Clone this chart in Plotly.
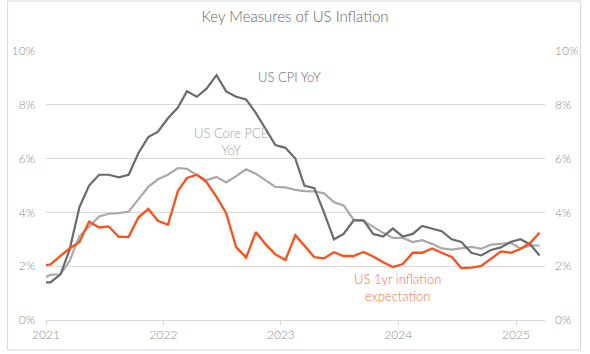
import pandas as pd
import plotly.graph_objects as go

# Monthly observations, mid-month, Dec 2020 .. Mar 2025
months = pd.date_range("2020-12-01", "2025-03-01", freq="MS") + pd.Timedelta(days=14)

cpi_yoy = [1.4,
           1.4, 1.7, 2.6, 4.2, 5.0, 5.4, 5.4, 5.3, 5.4, 6.2, 6.8, 7.0,
           7.5, 7.9, 8.5, 8.3, 8.6, 9.1, 8.5, 8.3, 8.2, 7.7, 7.1, 6.5,
           6.4, 6.0, 5.0, 4.9, 4.0, 3.0, 3.2, 3.7, 3.7, 3.2, 3.1, 3.4,
           3.1, 3.2, 3.5, 3.4, 3.3, 3.0, 2.9, 2.5, 2.4, 2.6, 2.7, 2.9,
           3.0, 2.8, 2.4]

core_pce_yoy = [1.5,
                1.68, 1.70, 2.19, 3.11, 3.48, 3.85, 3.95, 3.97, 4.03, 4.5, 4.95, 5.23,
                5.4, 5.65, 5.62, 5.38, 5.2, 5.32, 5.11, 5.35, 5.6, 5.44, 5.18, 4.95,
                4.93, 4.84, 4.79, 4.78, 4.71, 4.38, 4.26, 3.73, 3.68, 3.45, 3.24, 3.05,
                3.05, 2.9, 2.97, 2.83, 2.66, 2.62, 2.66, 2.72, 2.65, 2.8, 2.83, 2.87,
                2.66, 2.77, 2.77]

infl_exp_1yr = [2.0,
                2.07, 2.38, 2.66, 2.9, 3.66, 3.44, 3.48, 3.09, 3.09, 3.81, 4.13, 3.69,
                3.54, 4.8, 5.28, 5.4, 5.13, 4.58, 3.97, 2.71, 2.32, 3.27, 2.81, 2.44,
                2.23, 3.15, 2.75, 2.34, 2.29, 2.52, 2.38, 2.38, 2.53, 2.36, 2.15, 1.97,
                2.08, 2.5, 2.5, 2.66, 2.5, 2.34, 1.93, 1.95, 2.01, 2.27, 2.55, 2.5,
                2.64, 2.88, 3.24]

y_ticks = [0, 2, 4, 6, 8, 10]
y_ticktext = ["0%", "2%", "4%", "6%", "8%", "10%"]
year_ticks = ["2021-01-01", "2022-01-01", "2023-01-01", "2024-01-01", "2025-01-01"]
year_labels = ["2021", "2022", "2023", "2024", "2025"]

DARK = "#6b6b6b"
LIGHT = "#a9a9a9"
ORANGE = "#ff4f17"
GRID = "#d9d9d9"
TXT = "#8c8c8c"
FONT = "Lato"
WT = 300

fig = go.Figure()
fig.add_trace(go.Scatter(x=months, y=core_pce_yoy, mode="lines", name="US Core PCE YoY",
                         line=dict(color=LIGHT, width=2.2)))
fig.add_trace(go.Scatter(x=months, y=cpi_yoy, mode="lines", name="US CPI YoY",
                         line=dict(color=DARK, width=2.2)))
fig.add_trace(go.Scatter(x=months, y=infl_exp_1yr, mode="lines", name="US 1yr inflation expectation",
                         line=dict(color=ORANGE, width=2.3), yaxis="y2"))

L, R, T, B = 40, 37, 51, 31
W, H = 590, 354
pw, ph = W - L - R, H - T - B

tickfont = dict(family=FONT, size=12, color=TXT, weight=WT)

fig.update_layout(
    width=W, height=H,
    margin=dict(l=L, r=R, t=T, b=B),
    paper_bgcolor="white", plot_bgcolor="white",
    showlegend=False,
    font=dict(family=FONT, color=TXT, size=11, weight=WT),
    title=dict(text="Key Measures of US Inflation", x=0.5, xanchor="center",
               y=1 - 17 / H, yanchor="middle",
               font=dict(family=FONT, size=15, color="#666666", weight=WT)),
    xaxis=dict(type="date", range=["2021-01-01", "2025-04-01"],
               tickvals=year_ticks, ticktext=year_labels,
               showgrid=False, zeroline=False,
               showline=True, linecolor=GRID, linewidth=1,
               ticks="outside", ticklen=4, tickcolor=GRID,
               tickfont=tickfont),
    yaxis=dict(range=[0, 10], tickvals=y_ticks, ticktext=y_ticktext,
               showgrid=True, gridcolor=GRID, gridwidth=1, zeroline=False,
               showline=False, ticks="", ticklabelstandoff=10,
               tickfont=tickfont),
    yaxis2=dict(range=[0, 10], tickvals=y_ticks, ticktext=y_ticktext,
                overlaying="y", side="right", showgrid=False, zeroline=False,
                showline=False, ticks="", ticklabelstandoff=9,
                tickfont=tickfont),
    shapes=[dict(type="rect", xref="paper", yref="paper",
                 x0=-(L - 0.5) / pw, x1=1 + (R - 0.5) / pw,
                 y0=-(B - 0.5) / ph, y1=1 + (T - 0.5) / ph,
                 line=dict(color=GRID, width=1), layer="below")],
    annotations=[
        dict(text="US CPI YoY", xref="paper", yref="paper",
             x=(290 - L) / pw, y=(H - B - 77) / ph, showarrow=False,
             xanchor="center", yanchor="middle",
             font=dict(family=FONT, size=13, color="#6b6b6b", weight=WT)),
        dict(text="US Core PCE<br>YoY", xref="paper", yref="paper",
             x=(230 - L) / pw, y=(H - B - 143) / ph, showarrow=False,
             xanchor="center", yanchor="middle",
             font=dict(family=FONT, size=13, color="#a3a3a3", weight=WT)),
        dict(text="US 1yr inflation<br>expectation", xref="paper", yref="paper",
             x=(401 - L) / pw, y=(H - B - 290) / ph, showarrow=False,
             xanchor="center", yanchor="middle",
             font=dict(family=FONT, size=13, color="#f5734a", weight=WT)),
    ],
)

fig.write_html("out.html", config={"displayModeBar": False})
